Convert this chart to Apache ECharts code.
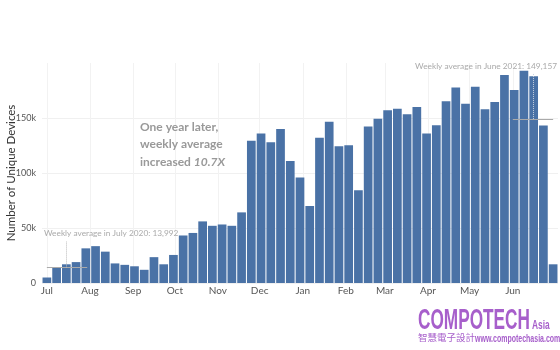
<!DOCTYPE html>
<html>
<head>
<meta charset="utf-8">
<script src="https://cdn.jsdelivr.net/npm/echarts@6/dist/echarts.min.js"></script>
<style>
  html, body { margin: 0; padding: 0; background: #fff; }
  #container { width: 560px; height: 350px; }
</style>
</head>
<body>
<div id="container"></div>
<script>
// week dates (one bar per week)
const weeks = [
  '2020-07-01', '2020-07-08', '2020-07-15', '2020-07-22', '2020-07-29',
  '2020-08-05', '2020-08-12', '2020-08-19', '2020-08-26',
  '2020-09-02', '2020-09-09', '2020-09-16', '2020-09-23', '2020-09-30',
  '2020-10-07', '2020-10-14', '2020-10-21', '2020-10-28',
  '2020-11-04', '2020-11-11', '2020-11-18', '2020-11-25',
  '2020-12-02', '2020-12-09', '2020-12-16', '2020-12-23', '2020-12-30',
  '2021-01-06', '2021-01-13', '2021-01-20', '2021-01-27',
  '2021-02-03', '2021-02-10', '2021-02-17', '2021-02-24',
  '2021-03-03', '2021-03-10', '2021-03-17', '2021-03-24', '2021-03-31',
  '2021-04-07', '2021-04-14', '2021-04-21', '2021-04-28',
  '2021-05-05', '2021-05-12', '2021-05-19', '2021-05-26',
  '2021-06-02', '2021-06-09', '2021-06-16', '2021-06-23', '2021-06-30'
];

// unique devices per week
const devices = [
  5000, 14500, 17000, 19000, 31500,
  33500, 28500, 17800, 16500,
  15200, 12000, 23500, 17000, 25500,
  43200, 45500, 56000, 52000,
  53200, 52000, 64200, 129300,
  136000, 128000, 140000, 111000, 96000,
  70000, 132000, 146500, 124300,
  125300, 84300, 142300, 149300,
  157000, 158300, 153500, 160000, 136000,
  143500, 165300, 177800, 163000,
  178300, 158000, 164500, 189000,
  175500, 193000, 188000, 143200, 17000
];

const monthStarts = ['2020-07-01', '2020-08-01', '2020-09-01', '2020-10-01', '2020-11-01', '2020-12-01',
  '2021-01-01', '2021-02-01', '2021-03-01', '2021-04-01', '2021-05-01', '2021-06-01'];
const monthLabels = ['Jul', 'Aug', 'Sep', 'Oct', 'Nov', 'Dec', 'Jan', 'Feb', 'Mar', 'Apr', 'May', 'Jun'];

const yTicks = [0, 50000, 100000, 150000];
const yTickLabels = ['0', '50k', '100k', '150k'];

// monthly averages annotated on the chart
const julyAvg = { from: '2020-07-01', to: '2020-07-30', mid: '2020-07-15', value: 13992, top: 38000 };
const juneAvg = { from: '2021-06-01', to: '2021-06-30', mid: '2021-06-16', value: 149157, top: 191000 };

const start = Date.parse(weeks[0]);
const day = d => (Date.parse(d) - start) / 86400000;
const monthDays = monthStarts.map(day);

const font = 'Lato, "Noto Sans", sans-serif';
const barColor = '#4a72a6';
const brand = '#a75fcb';

const chart = echarts.init(document.getElementById('container'), null, { renderer: 'canvas' });

const option = {
  animation: false,
  grid: { left: 42, right: 2, top: 63, bottom: 67, containLabel: false, outerBoundsMode: 'none' },
  xAxis: {
    type: 'value',
    min: -3.5,
    max: day(weeks[weeks.length - 1]) + 3.5,
    axisLine: { show: false },
    axisTick: { show: false, customValues: monthDays },
    axisLabel: {
      customValues: monthDays,
      formatter: v => monthLabels[monthDays.indexOf(v)],
      color: '#555',
      fontSize: 10,
      fontFamily: font,
      margin: 3
    },
    splitLine: { show: true, lineStyle: { color: '#f2f2f2', width: 1 } }
  },
  yAxis: {
    type: 'value',
    min: 0,
    max: 200000,
    interval: 50000,
    name: 'Number of Unique Devices',
    nameLocation: 'middle',
    nameGap: 25,
    nameMoveOverlap: false,
    nameTextStyle: { color: '#333', fontSize: 11.5, fontFamily: font },
    axisLine: { show: false },
    axisTick: { show: false },
    axisLabel: {
      showMaxLabel: false,
      formatter: v => yTickLabels[yTicks.indexOf(v)] || '',
      color: '#555',
      fontSize: 9,
      fontFamily: font,
      margin: 6
    },
    splitLine: { show: true, showMaxLine: false, lineStyle: { color: '#f0f0f0', width: 1 } }
  },
  series: [
    {
      type: 'bar',
      barWidth: 8.7,
      itemStyle: { color: barColor },
      data: weeks.map((w, i) => [day(w), devices[i]]),
      markLine: {
        silent: true,
        symbol: 'none',
        label: { show: false },
        data: [
          [{ coord: [day(julyAvg.from), julyAvg.value] }, { coord: [day(julyAvg.to), julyAvg.value] }],
          [{ coord: [day(juneAvg.from), juneAvg.value] }, { coord: [day(juneAvg.to), juneAvg.value] }],
          [{ coord: [day(julyAvg.mid), julyAvg.value], lineStyle: { type: 'dotted', color: '#bbb' } },
           { coord: [day(julyAvg.mid), julyAvg.top] }],
          [{ coord: [day(juneAvg.mid), juneAvg.value], lineStyle: { type: 'dotted', color: '#c8d2e0' } },
           { coord: [day(juneAvg.mid), juneAvg.top] }]
        ],
        lineStyle: { color: '#aaa', width: 1, type: 'solid' }
      }
    }
  ],
  graphic: [
    {
      type: 'text', left: 44, top: 229, z: 200,
      style: { text: 'Weekly average in July 2020: 13,992', fill: '#aaa', fontSize: 8.3, fontFamily: font }
    },
    {
      type: 'text', right: 3, top: 62, z: 200,
      style: { text: 'Weekly average in June 2021: 149,157', fill: '#aaa', fontSize: 8.3, fontFamily: font }
    },
    {
      type: 'text', left: 140, top: 121, z: 200,
      style: {
        text: '{b|One year later,}\n{b|weekly average}\n{b|increased }{i|10.7X}',
        rich: {
          b: { fill: '#999', fontSize: 12, fontWeight: 'bold', fontFamily: font, lineHeight: 17.5 },
          i: { fill: '#999', fontSize: 12, fontWeight: 'bold', fontStyle: 'italic', fontFamily: font, lineHeight: 17.5 }
        }
      }
    },
    {
      type: 'text', x: 418, y: 306, scaleX: 0.594,
      style: { text: 'COMPOTECH', fill: brand, fontSize: 29, fontWeight: 'bold', fontFamily: '"Liberation Sans", sans-serif' }
    },
    {
      type: 'text', x: 532, y: 320, scaleX: 0.7,
      style: { text: 'Asia', fill: brand, fontSize: 12, fontWeight: 'bold', fontFamily: '"Liberation Sans", sans-serif' }
    },
    {
      type: 'text', x: 418, y: 333,
      style: { text: '智慧電子設計', fill: brand, fontSize: 9.5, fontFamily: '"Noto Sans CJK TC", sans-serif' }
    },
    {
      type: 'text', x: 475, y: 334, scaleX: 0.7,
      style: { text: 'www.compotechasia.com', fill: brand, fontSize: 10, fontWeight: 'bold', fontFamily: '"Liberation Sans", sans-serif' }
    }
  ]
};

chart.setOption(option);
window.addEventListener('resize', () => chart.resize());
</script>
</body>
</html>
